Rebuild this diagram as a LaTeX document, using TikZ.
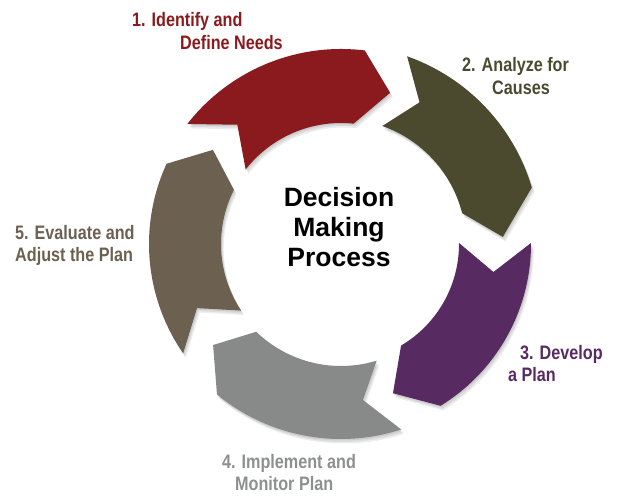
\documentclass[tikz,border=0pt]{standalone}
\usepackage{fontspec}
\setmainfont{Liberation Sans}
\newfontfamily\lblfont[FakeStretch=0.83]{Liberation Sans}
\definecolor{cred}{HTML}{8B1A1E}
\definecolor{colive}{HTML}{4B4A2F}
\definecolor{cpurple}{HTML}{572B62}
\definecolor{cgray}{HTML}{888989}
\definecolor{cbrown}{HTML}{6C6050}
\definecolor{tgray}{HTML}{8E8F8F}
\tikzset{
  redseg/.style={insert path={(142:195) arc[start angle=142,end angle=83,radius=195] -- (72:159) -- (84:121) arc[start angle=84,end angle=142,radius=121] -- (131:158) -- cycle}},
  oliveseg/.style={insert path={(70.6:199) arc[start angle=70.6,end angle=16.5,radius=199] -- (2.5:162) -- (14.3:125) arc[start angle=14.3,end angle=70.7,radius=125] -- (61:162) -- cycle}},
  purpleseg/.style={insert path={(0.3:190) arc[start angle=0.3,end angle=-58.4,radius=190] -- (-70.8:158) -- (-59.4:118) arc[start angle=-59.4,end angle=0.5,radius=118] -- (-10.4:155) -- cycle}},
  grayseg/.style={insert path={(-72:195) arc[start angle=-72,end angle=-129.5,radius=195] -- (-141.7:163) -- (-134:122) arc[start angle=-134,end angle=-73,radius=122] -- (-82:157.5) -- cycle}},
  brownseg/.style={insert path={(214.7:192) arc[start angle=214.7,end angle=155.3,radius=192] -- (143.7:159) -- (153.2:120) arc[start angle=153.2,end angle=213.7,radius=120] -- (204:157.6) -- cycle}},
  shadowfill/.style={fill=black,opacity=0.07},
  lbl/.style={anchor=base west,inner sep=0pt,font=\lblfont\bfseries\fontsize{19.5}{22}\selectfont},
  ctr/.style={anchor=base,inner sep=0pt,font=\bfseries\fontsize{26.5}{30}\selectfont}
}
\begin{document}
\begin{tikzpicture}[x=1pt,y=1pt]
\useasboundingbox (0,0) rectangle (618,495);
\begin{scope}[shift={(341,251)}]
  \foreach \d in {1.5,3,4.5}{
    \fill[shadowfill,shift={(0.6*\d,-\d)},redseg];
    \fill[shadowfill,shift={(0.6*\d,-\d)},oliveseg];
    \fill[shadowfill,shift={(0.6*\d,-\d)},purpleseg];
    \fill[shadowfill,shift={(0.6*\d,-\d)},grayseg];
    \fill[shadowfill,shift={(0.6*\d,-\d)},brownseg];
  }
  \fill[cbrown,brownseg];
  \fill[cgray,grayseg];
  \fill[cpurple,purpleseg];
  \fill[colive,oliveseg];
  \fill[cred,redseg];
\end{scope}
\node[ctr] (c1) at (339,288) {Decision};
\node[ctr] (c2) at (339,258) {Making};
\node[ctr] (c3) at (339,228) {Process};
\node[lbl,text=cred] (l1a) at (132,468) {1. Identify and};
\node[lbl,text=cred] (l1b) at (180,445) {Define Needs};
\node[lbl,text=colive] (l2a) at (462,423) {2. Analyze for};
\node[lbl,text=colive] (l2b) at (492,400) {Causes};
\node[lbl,text=cpurple] (l3a) at (520,135) {3. Develop};
\node[lbl,text=cpurple] (l3b) at (508,113) {a Plan};
\node[lbl,text=tgray] (l4a) at (222,27) {4. Implement and};
\node[lbl,text=tgray] (l4b) at (235,5) {Monitor Plan};
\node[lbl,text=cbrown] (l5a) at (15,255) {5. Evaluate and};
\node[lbl,text=cbrown] (l5b) at (15,233) {Adjust the Plan};
\end{tikzpicture}
\end{document}
